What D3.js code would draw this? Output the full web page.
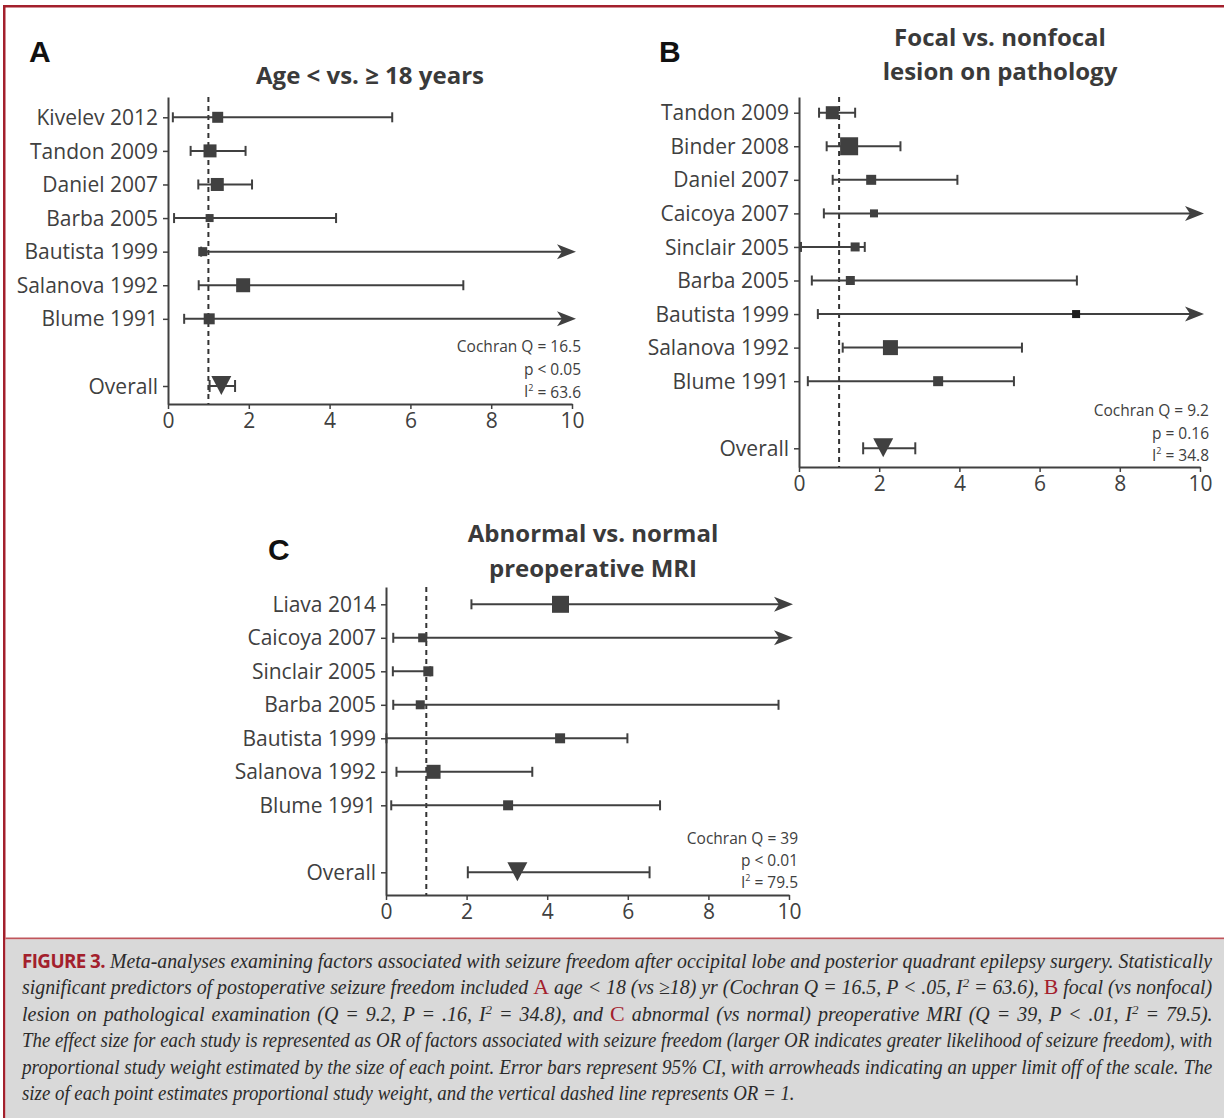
<!DOCTYPE html>
<html>
<head>
<meta charset="utf-8">
<script src="https://cdn.jsdelivr.net/npm/d3@7"></script>
<style>
  body { margin: 0; background: #fff; }
  svg { display: block; }
  text { white-space: pre; }
</style>
</head>
<body>
<svg id="figura" width="1224" height="1118"></svg>
<script>
// Eixo x comum aos tres paineis (odds ratio)
var xTicks = [0, 2, 4, 6, 8, 10];

// Painel A: idade < vs >= 18 anos
var studiesA = ["Kivelev 2012", "Tandon 2009", "Daniel 2007", "Barba 2005",
                "Bautista 1999", "Salanova 1992", "Blume 1991"];
var orA     = [1.23, 1.04, 1.22, 1.03, 0.86, 1.86, 1.02];
var lowA    = [0.12, 0.56, 0.75, 0.15, 0.82, 0.76, 0.40];
var highA   = [5.55, 1.92, 2.08, 4.16, null, 7.31, null];   // null = fora da escala (seta)
var weightA = [11, 13, 13, 8, 9, 14, 11];
var overallA = [1.32, 1.03, 1.66];                          // OR, inferior, superior
var statsA = ["16.5", "p < 0.05", "63.6"];                  // Q, p, I2

// Painel B: lesao focal vs nao focal
var studiesB = ["Tandon 2009", "Binder 2008", "Daniel 2007", "Caicoya 2007", "Sinclair 2005",
                "Barba 2005", "Bautista 1999", "Salanova 1992", "Blume 1991"];
var orB     = [0.83, 1.25, 1.80, 1.87, 1.40, 1.28, 6.91, 2.28, 3.47];
var lowB    = [0.50, 0.69, 0.84, 0.62, 0.05, 0.32, 0.47, 1.09, 0.22];
var highB   = [1.40, 2.53, 3.95, null, 1.64, 6.93, null, 5.56, 5.36];
var weightB = [13, 18, 10, 8, 9, 9, 8, 15, 10];
var overallB = [2.10, 1.60, 2.90];
var statsB = ["9.2", "p = 0.16", "34.8"];

// Painel C: RM pre-operatoria anormal vs normal
var studiesC = ["Liava 2014", "Caicoya 2007", "Sinclair 2005", "Barba 2005",
                "Bautista 1999", "Salanova 1992", "Blume 1991"];
var orC     = [4.33, 0.91, 1.05, 0.85, 4.32, 1.18, 3.03];
var lowC    = [2.12, 0.18, 0.17, 0.18, 0.01, 0.26, 0.13];
var highC   = [null, null, 1.10, 9.74, 5.99, 3.63, 6.80];
var weightC = [17, 9, 10, 9, 10, 14, 10];
var overallC = [3.26, 2.03, 6.54];
var statsC = ["39", "p < 0.01", "79.5"];

var cinza = "#404040";
var vermelho = "#a3202c";

var svg = d3.select("#figura");

// Bordas da figura
svg.append("rect").attr("x", 3).attr("y", 5).attr("width", 1221).attr("height", 2.5).attr("fill", vermelho);
svg.append("rect").attr("x", 3).attr("y", 5).attr("width", 2.5).attr("height", 1113).attr("fill", vermelho);

/*
 * Desenha um forest plot.
 * p: posicoes em pixels + referencias para os arrays de dados
 */
function drawPanel(p) {
  var g = svg.append("g");
  var n = p.studies.length;

  var x = d3.scaleLinear().domain([0, 10]).range([p.x0, p.x1]);
  // linhas: estudos 0..n-1, uma linha vazia, depois "Overall" em n+1
  var y = d3.scaleLinear().domain([0, n + 1]).range([p.yFirst, p.yLast]);
  var yEixo = d3.scaleLinear()
      .domain([y.invert(p.axisTop), y.invert(p.axisBottom)])
      .range([p.axisTop, p.axisBottom]);
  var lado = d3.scaleLinear().domain([0, 20]).range([0, 20]);

  var rows = p.studies.map(function(s, i) {
    return {label: s, or: p.or[i], lo: p.low[i], hi: p.high[i], w: p.weight[i], i: i};
  });
  var labels = p.studies.concat(["Overall"]);
  var indices = d3.range(n).concat([n + 1]);

  // Eixo y com os nomes dos estudos
  var eixoY = g.append("g")
      .attr("transform", "translate(" + p.x0 + ",0)")
      .call(d3.axisLeft(yEixo).tickValues(indices)
        .tickFormat(function(d) { return labels[indices.indexOf(d)]; })
        .tickSize(5).tickSizeOuter(0).tickPadding(5));
  eixoY.select(".domain").attr("stroke", cinza).attr("stroke-width", 2);
  eixoY.selectAll(".tick line").attr("stroke", cinza).attr("stroke-width", 1.5);
  eixoY.selectAll(".tick text")
      .attr("font-family", "'Open Sans', sans-serif").attr("font-size", 21)
      .attr("fill", cinza).attr("dy", "0.34em");

  // Eixo x
  var eixoX = g.append("g")
      .attr("transform", "translate(0," + p.axisBottom + ")")
      .call(d3.axisBottom(x).tickValues(xTicks).tickFormat(d3.format("d"))
        .tickSize(5).tickSizeOuter(0).tickPadding(4));
  eixoX.select(".domain").attr("stroke", cinza).attr("stroke-width", 2);
  eixoX.selectAll(".tick line").attr("stroke", cinza).attr("stroke-width", 1.5);
  eixoX.selectAll(".tick text")
      .attr("font-family", "'Open Sans', sans-serif").attr("font-size", 21).attr("fill", cinza);

  // Linha tracejada em OR = 1
  g.append("line")
      .attr("x1", x(1)).attr("x2", x(1))
      .attr("y1", p.axisTop).attr("y2", p.axisBottom)
      .attr("stroke", "#333").attr("stroke-width", 2).attr("stroke-dasharray", "5,4");

  var ponta = x(10) + 4;

  // Intervalos de confianca
  var ic = g.append("g").selectAll("g").data(rows).enter().append("g");
  ic.append("line")
      .attr("x1", function(d) { return x(d.lo); })
      .attr("x2", function(d) { return d.hi === null ? ponta - 14 : x(d.hi); })
      .attr("y1", function(d) { return y(d.i); })
      .attr("y2", function(d) { return y(d.i); })
      .attr("stroke", cinza).attr("stroke-width", 2);
  ic.append("line")
      .attr("x1", function(d) { return x(d.lo); })
      .attr("x2", function(d) { return x(d.lo); })
      .attr("y1", function(d) { return y(d.i) - 5; })
      .attr("y2", function(d) { return y(d.i) + 5; })
      .attr("stroke", cinza).attr("stroke-width", 2);
  ic.filter(function(d) { return d.hi !== null; }).append("line")
      .attr("x1", function(d) { return x(d.hi); })
      .attr("x2", function(d) { return x(d.hi); })
      .attr("y1", function(d) { return y(d.i) - 5; })
      .attr("y2", function(d) { return y(d.i) + 5; })
      .attr("stroke", cinza).attr("stroke-width", 2);
  // setas para limite superior fora da escala
  ic.filter(function(d) { return d.hi === null; }).append("path")
      .attr("d", function(d) {
        var yy = y(d.i);
        return "M" + ponta + "," + yy + "L" + (ponta - 19) + "," + (yy - 7.5) +
               "L" + (ponta - 14) + "," + yy + "L" + (ponta - 19) + "," + (yy + 7.5) + "Z";
      })
      .attr("fill", cinza);

  // Quadrados (peso do estudo)
  ic.append("rect")
      .attr("x", function(d) { return x(d.or) - lado(d.w) / 2; })
      .attr("y", function(d) { return y(d.i) - lado(d.w) / 2; })
      .attr("width", function(d) { return lado(d.w); })
      .attr("height", function(d) { return lado(d.w); })
      .attr("fill", function(d) { return d.or > 6 ? "#1e1e1e" : cinza; });

  // Efeito global
  var yo = y(n + 1);
  g.append("line")
      .attr("x1", x(p.overall[1])).attr("x2", x(p.overall[2]))
      .attr("y1", yo).attr("y2", yo)
      .attr("stroke", cinza).attr("stroke-width", 2);
  [p.overall[1], p.overall[2]].forEach(function(v) {
    g.append("line").attr("x1", x(v)).attr("x2", x(v))
        .attr("y1", yo - 6).attr("y2", yo + 6)
        .attr("stroke", cinza).attr("stroke-width", 2);
  });
  var xo = x(p.overall[0]);
  g.append("path")
      .attr("d", "M" + (xo - 10) + "," + (yo - 10) + "L" + (xo + 10) + "," + (yo - 10) +
                 "L" + xo + "," + (yo + 9) + "Z")
      .attr("fill", cinza);

  // Estatisticas de heterogeneidade
  var st = g.append("g")
      .attr("font-family", "'Open Sans', sans-serif").attr("font-size", 15.5)
      .attr("fill", cinza).attr("text-anchor", "end");
  var xs = x(10) + 9;
  st.append("text").attr("x", xs).attr("y", yo + p.statDy[0]).attr("dy", "0.35em")
      .text("Cochran Q = " + p.stats[0]);
  st.append("text").attr("x", xs).attr("y", yo + p.statDy[1]).attr("dy", "0.35em")
      .text(p.stats[1]);
  var i2 = st.append("text").attr("x", xs).attr("y", yo + p.statDy[2]).attr("dy", "0.35em");
  i2.append("tspan").text("I");
  i2.append("tspan").attr("font-size", 9).attr("dy", "-0.7em").text("2");
  i2.append("tspan").attr("dy", "0.45em").text(" = " + p.stats[2]);

  // Letra do painel e titulo
  g.append("text")
      .attr("x", p.letter[0]).attr("y", p.letter[1])
      .attr("font-family", "'Liberation Sans', Arial, sans-serif").attr("font-weight", "bold")
      .attr("font-size", 30).attr("fill", "#111")
      .text(p.name);
  p.title.forEach(function(linha, k) {
    g.append("text")
        .attr("x", p.titleX).attr("y", p.titleY[k])
        .attr("text-anchor", "middle")
        .attr("font-family", "'Open Sans', sans-serif").attr("font-weight", "bold")
        .attr("font-size", 24).attr("fill", "#3a3a3a")
        .text(linha);
  });
}

drawPanel({
  name: "A", letter: [29, 62], title: ["Age < vs. \u2265 18 years"], titleX: 370, titleY: [84],
  x0: 168, x1: 572, yFirst: 117.3, yLast: 386, axisTop: 97, axisBottom: 404,
  statDy: [-39, -16, 6],
  studies: studiesA, or: orA, low: lowA, high: highA, weight: weightA,
  overall: overallA, stats: statsA
});

drawPanel({
  name: "B", letter: [659, 62], title: ["Focal vs. nonfocal", "lesion on pathology"],
  titleX: 1000, titleY: [46, 80],
  x0: 799, x1: 1200, yFirst: 112.7, yLast: 448.3, axisTop: 97, axisBottom: 467,
  statDy: [-38, -15, 7],
  studies: studiesB, or: orB, low: lowB, high: highB, weight: weightB,
  overall: overallB, stats: statsB
});

drawPanel({
  name: "C", letter: [268, 560], title: ["Abnormal vs. normal", "preoperative MRI"],
  titleX: 593, titleY: [542, 577],
  x0: 386, x1: 789, yFirst: 604.3, yLast: 872.3, axisTop: 587, axisBottom: 895,
  statDy: [-34, -12, 10],
  studies: studiesC, or: orC, low: lowC, high: highC, weight: weightC,
  overall: overallC, stats: statsC
});

// Legenda da figura (caixa cinza)
svg.append("rect").attr("x", 5.5).attr("y", 937.5).attr("width", 1219).attr("height", 2).attr("fill", "#c0565c");
svg.append("rect").attr("x", 5.5).attr("y", 939.5).attr("width", 1219).attr("height", 179).attr("fill", "#d9d9d9");

var captionLines = [
  [["FIGURE 3.", "fig"], [" Meta-analyses examining factors associated with seizure freedom after occipital lobe and posterior quadrant epilepsy surgery. Statistically", "it"]],
  [["significant predictors of postoperative seizure freedom included ", "it"], ["A", "ref"],
   [" age < 18 (vs \u226518) yr (Cochran Q = 16.5, P < .05, I", "it"], ["2", "sup"], [" = 63.6), ", "it"],
   ["B", "ref"], [" focal (vs nonfocal)", "it"]],
  [["lesion on pathological examination (Q = 9.2, P = .16, I", "it"], ["2", "sup"], [" = 34.8), and ", "it"],
   ["C", "ref"], [" abnormal (vs normal) preoperative MRI (Q = 39, P < .01, I", "it"], ["2", "sup"], [" = 79.5).", "it"]],
  [["The effect size for each study is represented as OR of factors associated with seizure freedom (larger OR indicates greater likelihood of seizure freedom), with", "it"]],
  [["proportional study weight estimated by the size of each point. Error bars represent 95% CI, with arrowheads indicating an upper limit off of the scale. The", "it"]],
  [["size of each point estimates proportional study weight, and the vertical dashed line represents OR = 1.", "it"]]
];

var legX0 = 22, legX1 = 1213;
var linhasTexto = captionLines.map(function(linha, k) {
  var t = svg.append("text")
      .attr("font-family", "'Liberation Serif', 'DejaVu Serif', serif")
      .attr("font-size", 20).attr("fill", "#2b2b2b");
  var sobe = false;
  linha.forEach(function(seg) {
    var ts = t.append("tspan").text(seg[0]);
    if (sobe) { ts.attr("dy", 7); sobe = false; }
    if (seg[1] === "it") ts.attr("font-style", "italic");
    if (seg[1] === "fig") ts.attr("font-family", "'Open Sans', sans-serif").attr("font-weight", "bold")
        .attr("font-size", 19).attr("fill", vermelho).attr("letter-spacing", -0.6);
    if (seg[1] === "ref") ts.attr("font-size", 22).attr("fill", vermelho);
    if (seg[1] === "sup") { ts.attr("font-style", "italic").attr("font-size", 13).attr("dy", -7); sobe = true; }
  });
  return t;
});

// Compressao horizontal (fonte condensada): base tirada da linha so de texto corrido,
// ajustada um pouco por linha e o resto distribuido nos espacos
var sxBase = (legX1 - legX0) / linhasTexto[3].node().getComputedTextLength();
linhasTexto.forEach(function(t, k) {
  var largura = t.node().getComputedTextLength();
  var ultima = k === linhasTexto.length - 1;
  var sx = ultima ? sxBase : Math.max(sxBase * 0.98, Math.min(sxBase * 1.06, (legX1 - legX0) / largura));
  t.attr("transform", "translate(" + legX0 + "," + (968 + k * 26.4) + ") scale(" + sx + ",1)");
  if (!ultima) {
    var texto = captionLines[k].map(function(s) { return s[0]; }).join("");
    var espacos = texto.split(" ").length - 1;
    t.attr("word-spacing", ((legX1 - legX0) / sx - largura) / espacos);
  }
});
</script>
</body>
</html>
